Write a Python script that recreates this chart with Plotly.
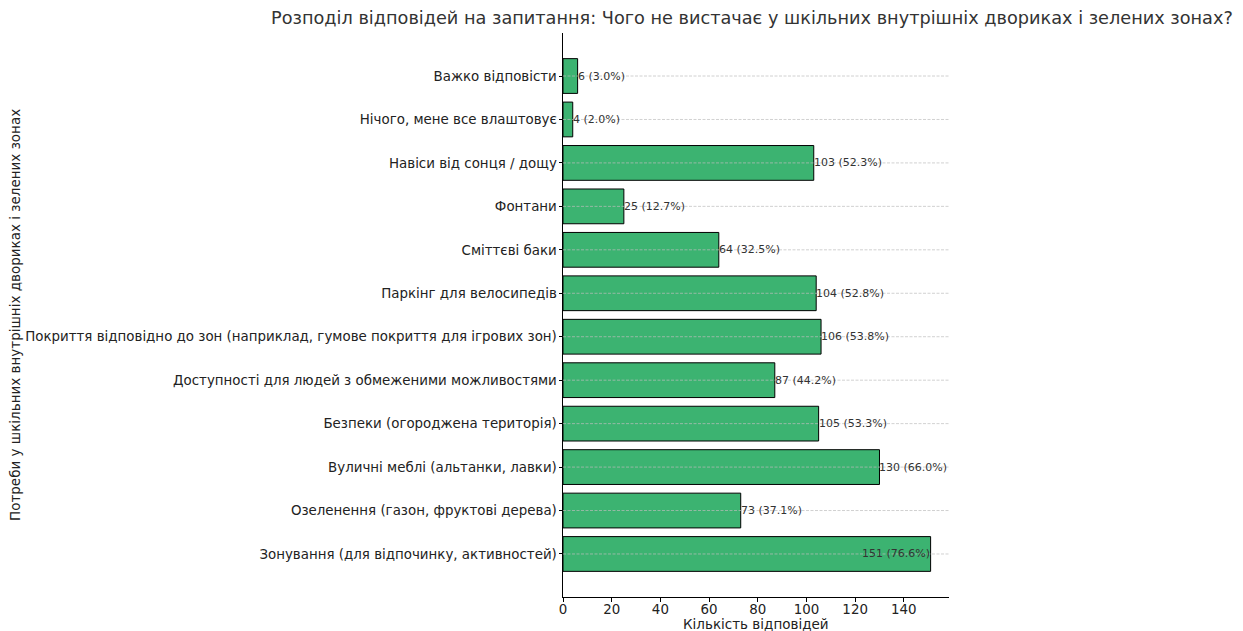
import plotly.graph_objects as go

categories = [
    "Зонування (для відпочинку, активностей)",
    "Озеленення (газон, фруктові дерева)",
    "Вуличні меблі (альтанки, лавки)",
    "Безпеки (огороджена територія)",
    "Доступності для людей з обмеженими можливостями",
    "Покриття відповідно до зон (наприклад, гумове покриття для ігрових зон)",
    "Паркінг для велосипедів",
    "Сміттєві баки",
    "Фонтани",
    "Навіси від сонця / дощу",
    "Нічого, мене все влаштовує",
    "Важко відповісти",
]
counts = [151, 73, 130, 105, 87, 106, 104, 64, 25, 103, 4, 6]
total = 197
labels = [f"{c} ({c / total * 100:.1f}%)" for c in counts]

FONT = "DejaVu Sans"
fig = go.Figure()
fig.add_trace(go.Bar(
    y=list(range(len(categories))), x=counts, orientation="h",
    width=0.8,
    marker=dict(color="#3CB371", line=dict(color="black", width=1)),
    hoverinfo="skip",
))

# dashed gridlines at each category, drawn over the bars
for i in range(len(categories)):
    fig.add_shape(type="line", xref="paper", yref="y", x0=0, x1=1, y0=i, y1=i,
                  layer="above", line=dict(color="#bdbdbd", width=0.7, dash="3px,1.5px"))

for i, (c, lab) in enumerate(zip(counts, labels)):
    if c == max(counts):
        fig.add_annotation(x=c, y=i, text=lab, showarrow=False, xanchor="right",
                           xshift=1, font=dict(family=FONT, size=11, color="#333333"))
    else:
        fig.add_annotation(x=c, y=i, text=lab, showarrow=False, xanchor="left",
                           xshift=-2, font=dict(family=FONT, size=11, color="#333333"))

fig.add_annotation(xref="paper", yref="paper", x=0, y=0.5, xshift=-548,
                   xanchor="center", yanchor="middle",
                   text="Потреби у шкільних внутрішніх двориках і зелених зонах",
                   textangle=-90, showarrow=False,
                   font=dict(family=FONT, size=13.5, color="#222222"))

fig.add_annotation(xref="paper", yref="paper", x=0.5, y=0, yshift=-27,
                   xanchor="center", yanchor="middle",
                   text="Кількість відповідей", showarrow=False,
                   font=dict(family=FONT, size=13.5, color="#222222"))

# the page body adds an 8px offset, so the figure is drawn 8px smaller
fig.update_layout(
    width=1235, height=623,
    margin=dict(l=555, r=294, t=25, b=34, autoexpand=False),
    plot_bgcolor="white", paper_bgcolor="white",
    showlegend=False,
    font=dict(family=FONT, size=13.4, color="#222222"),
    title=dict(text="Розподіл відповідей на запитання: Чого не вистачає у шкільних внутрішніх двориках і зелених зонах?",
               x=0.6024, xanchor="center", y=0.994, yanchor="top",
               font=dict(family=FONT, size=17.7, color="#333333")),
    xaxis=dict(range=[0, 158.55], tickvals=[0, 20, 40, 60, 80, 100, 120, 140],
               showgrid=False, zeroline=False, showline=True, linecolor="black", linewidth=1,
               ticks="outside", ticklen=4, tickcolor="black", automargin=False,
               ticklabelstandoff=-4, tickfont=dict(size=13.4)),
    yaxis=dict(range=[-0.99, 11.99], tickvals=list(range(len(categories))), ticktext=categories,
               showgrid=False, zeroline=False, showline=True, linecolor="black", linewidth=1,
               ticks="outside", ticklen=3.5, tickcolor="black", tickfont=dict(size=13.4),
               ticklabelstandoff=-1, automargin=False),
)

fig.write_html("out.html")
